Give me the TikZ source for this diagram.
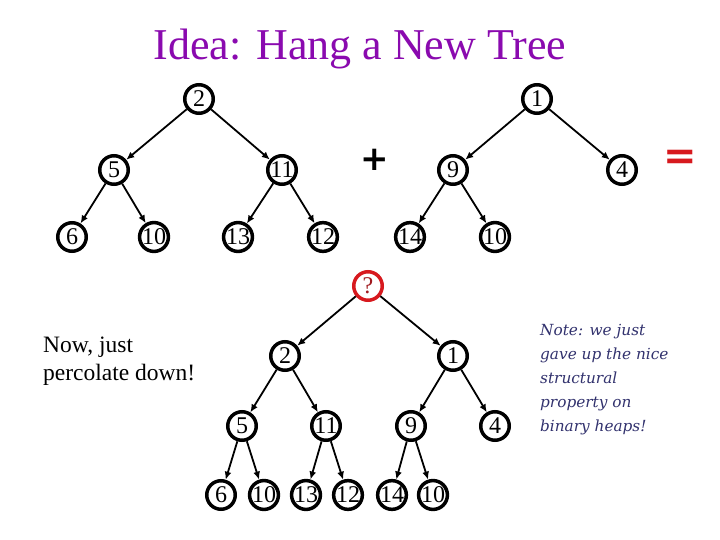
\documentclass[tikz,border=0pt]{standalone}
\usepackage{fontspec}
\setmainfont{Liberation Serif}
\newfontfamily\notefont{DejaVu Serif}
\newfontfamily\symfont{DejaVu Sans}
\usetikzlibrary{arrows.meta}
\definecolor{titlepurple}{RGB}{138,10,175}
\definecolor{qred}{RGB}{215,25,30}
\definecolor{qtext}{RGB}{160,25,30}
\definecolor{notenavy}{RGB}{50,50,110}
\begin{document}
\begin{tikzpicture}[x=1pt,y=-1pt,
  hn/.style={circle,draw=black,line width=3.5pt,fill=white,minimum size=28.5pt,inner sep=0pt,
    font=\fontsize{24}{24}\selectfont},
  qn/.style={hn,draw=qred,text=qtext},
  arr/.style={line width=1.8pt,-{Latex[length=8pt,width=7pt]}},
  lbl/.style={inner sep=0pt,anchor=base west,align=left}]
\useasboundingbox[fill=white] (0,0) rectangle (720,540);
% title
\node[text=titlepurple,font=\fontsize{44}{44}\selectfont,anchor=base,inner sep=0pt] (title) at (360,60) {Idea: Hang a New Tree};
% top-left tree
\node[hn] (a2) at (199,99) {2};
\node[hn] (a5) at (114,170) {5};
\node[hn] (a11) at (282,170) {11};
\node[hn] (a6) at (72,237) {6};
\node[hn] (a10) at (154,237) {10};
\node[hn] (a13) at (238,237) {13};
\node[hn] (a12) at (323,237) {12};
\draw[arr] (a2) -- (a5);
\draw[arr] (a2) -- (a11);
\draw[arr] (a5) -- (a6);
\draw[arr] (a5) -- (a10);
\draw[arr] (a11) -- (a13);
\draw[arr] (a11) -- (a12);
% plus
\node[font=\symfont\bfseries\fontsize{34}{34}\selectfont,inner sep=0pt] (plus) at (375,160) {+};
% top-right tree
\node[hn] (b1) at (537,99) {1};
\node[hn] (b9) at (453,170) {9};
\node[hn] (b4) at (622,170) {4};
\node[hn] (b14) at (410,237) {14};
\node[hn] (b10) at (495,237) {10};
\draw[arr] (b1) -- (b9);
\draw[arr] (b1) -- (b4);
\draw[arr] (b9) -- (b14);
\draw[arr] (b9) -- (b10);
% equals
\node[text=qred,font=\symfont\bfseries\fontsize{40}{40}\selectfont,inner sep=0pt] (eq) at (680,160) {=};
% bottom tree
\node[qn] (q) at (368,286) {?};
\node[hn] (c2) at (285,356) {2};
\node[hn] (c1) at (453,356) {1};
\node[hn] (c5) at (242,426) {5};
\node[hn] (c11) at (326,426) {11};
\node[hn] (c9) at (411,426) {9};
\node[hn] (c4) at (495,426) {4};
\node[hn] (c6) at (221,495) {6};
\node[hn] (c10) at (264,495) {10};
\node[hn] (c13) at (306,495) {13};
\node[hn] (c12) at (348,495) {12};
\node[hn] (c14) at (392,495) {14};
\node[hn] (c10b) at (433,495) {10};
\draw[arr] (q) -- (c2);
\draw[arr] (q) -- (c1);
\draw[arr] (c2) -- (c5);
\draw[arr] (c2) -- (c11);
\draw[arr] (c1) -- (c9);
\draw[arr] (c1) -- (c4);
\draw[arr] (c5) -- (c6);
\draw[arr] (c5) -- (c10);
\draw[arr] (c11) -- (c13);
\draw[arr] (c11) -- (c12);
\draw[arr] (c9) -- (c14);
\draw[arr] (c9) -- (c10b);
% left text
\node[lbl,font=\fontsize{23.5}{28}\selectfont] (now) at (43,352) {Now, just};
\node[lbl,font=\fontsize{23.5}{28}\selectfont] (perc) at (43,380) {percolate down!};
% note
\begin{scope}[every node/.style={lbl,text=notenavy,font=\notefont\itshape\fontsize{15.3}{24}\selectfont}]
\node (n1) at (540,335) {Note: we just};
\node (n2) at (540,359) {gave up the nice};
\node (n3) at (540,383) {structural};
\node (n4) at (540,407) {property on};
\node (n5) at (540,431) {binary heaps!};
\end{scope}
\end{tikzpicture}
\end{document}
